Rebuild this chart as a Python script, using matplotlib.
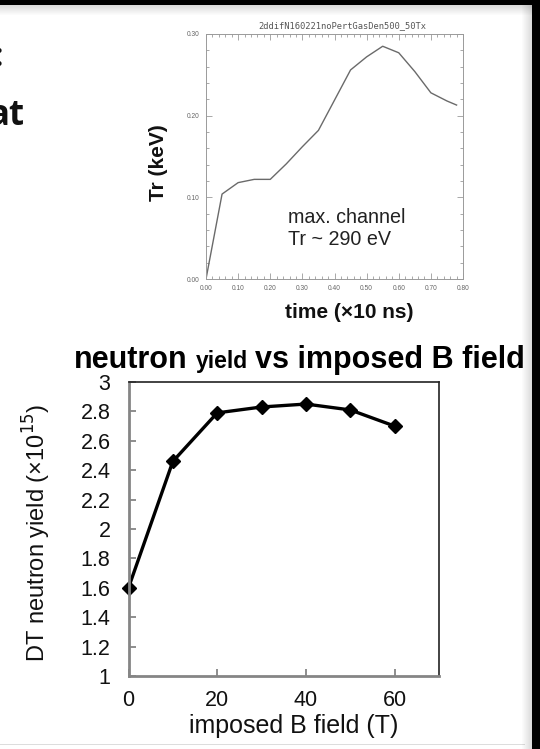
import matplotlib
matplotlib.use("Agg")
import matplotlib.pyplot as plt
from matplotlib.ticker import MultipleLocator, FixedLocator
from matplotlib.patches import Rectangle

# Radiation temperature history in the max. channel
time_10ns = [0.00, 0.05, 0.10, 0.15, 0.20, 0.25, 0.30, 0.35, 0.40, 0.45,
             0.50, 0.55, 0.60, 0.65, 0.70, 0.75, 0.78]
tr_kev = [0.000, 0.104, 0.118, 0.122, 0.122, 0.141, 0.162, 0.182, 0.219, 0.256,
          0.272, 0.285, 0.277, 0.254, 0.228, 0.218, 0.213]
run_name = "2ddifN160221noPertGasDen500_50Tx"
tr_ticks_x = [0.0, 0.1, 0.2, 0.3, 0.4, 0.5, 0.6, 0.7, 0.8]
tr_ticks_y = [0.0, 0.1, 0.2, 0.3]

# DT neutron yield vs imposed B field
b_field_T = [0, 10, 20, 30, 40, 50, 60]
yield_1e15 = [1.60, 2.46, 2.79, 2.83, 2.85, 2.81, 2.70]
b_ticks = [0, 20, 40, 60]
yield_ticks = [1.0, 1.2, 1.4, 1.6, 1.8, 2.0, 2.2, 2.4, 2.6, 2.8, 3.0]

W, H = 540, 749
fig = plt.figure(figsize=(W / 100, H / 100), dpi=100)
fig.patch.set_facecolor("white")
SANS = ["Liberation Sans", "DejaVu Sans"]


def fx(px):
    return px / W


def fy(py):
    return 1 - py / H


# ---------------- upper panel: Tr vs time ----------------
ax1 = fig.add_axes([fx(206), fy(279), fx(463) - fx(206), fy(34) - fy(279)])
ax1.plot(time_10ns, tr_kev, color="#6a6a6a", lw=1.0)
ax1.set_xlim(0, 0.8)
ax1.set_ylim(0, 0.3)
ax1.xaxis.set_major_locator(FixedLocator(tr_ticks_x))
ax1.yaxis.set_major_locator(FixedLocator(tr_ticks_y))
ax1.xaxis.set_minor_locator(MultipleLocator(0.02))
ax1.yaxis.set_minor_locator(MultipleLocator(0.02))
ax1.set_xticklabels([f"{v:.2f}" for v in tr_ticks_x])
ax1.set_yticklabels([f"{v:.2f}" for v in tr_ticks_y])
for sp in ax1.spines.values():
    sp.set_color("#9a9a9a")
    sp.set_linewidth(0.7)
ax1.tick_params(which="both", direction="in", top=True, right=True,
                color="#9a9a9a", width=0.6)
ax1.tick_params(which="major", length=4)
ax1.tick_params(which="minor", length=2)
ax1.tick_params(axis="x", labelsize=4.8, labelcolor="#666666", pad=4)
ax1.tick_params(axis="y", labelsize=4.8, labelcolor="#666666", pad=5)
for lab in ax1.get_xticklabels() + ax1.get_yticklabels():
    lab.set_family(SANS)

fig.text(fx(342), fy(26), run_name, family="DejaVu Sans Mono", fontsize=6.3,
         color="#555555", ha="center", va="center")
fig.text(fx(159), fy(163), "Tr (keV)", family=SANS, fontsize=15, fontweight="bold",
         rotation=90, ha="center", va="center", color="#111111")
fig.text(fx(349), fy(313), "time (×10 ns)", family=SANS, fontsize=15,
         fontweight="bold", ha="center", va="center", color="#111111")
ax1.text(0.255, 0.062, "max. channel\nTr ~ 290 eV", family=SANS, fontsize=14.2,
         color="#222222", ha="left", va="center", linespacing=1.2,
         transform=ax1.transData)

# ---------------- lower panel: neutron yield vs B ----------------
ax2 = fig.add_axes([fx(128.5), fy(676), fx(439) - fx(128.5), fy(382) - fy(676)])
ax2.plot(b_field_T, yield_1e15, color="black", lw=2.4, marker="D",
         markersize=6.8, markerfacecolor="black", markeredgecolor="black",
         clip_on=False)
ax2.set_xlim(0, 70)
ax2.set_ylim(1, 3)
ax2.xaxis.set_major_locator(FixedLocator(b_ticks))
ax2.yaxis.set_major_locator(FixedLocator(yield_ticks))
ax2.set_yticklabels([f"{v:g}" for v in yield_ticks])
ax2.set_xticklabels([str(v) for v in b_ticks])
ax2.spines["left"].set_color("#858585")
ax2.spines["bottom"].set_color("#858585")
ax2.spines["left"].set_linewidth(2.0)
ax2.spines["bottom"].set_linewidth(2.0)
ax2.spines["top"].set_color("#222222")
ax2.spines["right"].set_color("#222222")
ax2.spines["top"].set_linewidth(1.2)
ax2.spines["right"].set_linewidth(1.2)
ax2.tick_params(direction="in", length=5, width=1.3, color="#858585",
                labelsize=15.5, labelcolor="#111111")
ax2.tick_params(axis="y", pad=13)
ax2.tick_params(axis="x", pad=10)
for lab in ax2.get_xticklabels() + ax2.get_yticklabels():
    lab.set_family(SANS)

fig.text(fx(37), fy(533), "DT neutron yield (×10$^{15}$)", family=SANS,
         fontsize=17, rotation=90, ha="center", va="center", color="#111111")
fig.text(fx(294), fy(726), "imposed B field (T)", family=SANS, fontsize=18,
         ha="center", va="center", color="#111111")

# Title with a smaller "yield"
fig.canvas.draw()
rend = fig.canvas.get_renderer()
x_px = 74.0
y_base = fy(368)
pieces = [("neutron", 22, True), ("yield", 16.5, True), ("vs imposed B field", 22, False)]
for text, fs, gap_after in pieces:
    t = fig.text(fx(x_px), y_base, text, family=SANS, fontsize=fs, fontweight="bold",
                 ha="left", va="baseline", color="black")
    bb = t.get_window_extent(renderer=rend)
    x_px = bb.x1 + (0.278 * fs * 100 / 72 if gap_after else 0)

# ---------------- slide fragments and frame ----------------
fig.text(fx(3), fy(66), ":", family=["Open Sans", "DejaVu Sans"], fontsize=24,
         fontweight="bold", ha="right", va="baseline", color="#111111")
fig.text(fx(24), fy(125), "at", family=["Open Sans", "DejaVu Sans"], fontsize=25,
         fontweight="bold", ha="right", va="baseline", color="#111111")

# drop shadows under the black frame
for i in range(10):
    a = 0.28 * (1 - i / 10)
    fig.patches.append(Rectangle((0, 1 - (5 + i + 1) / H), 1, 1 / H,
                                 transform=fig.transFigure, color="black",
                                 alpha=a * 0.5, lw=0, zorder=5))
    fig.patches.append(Rectangle((fx(532 - i - 1), 0), 1 / W, 1,
                                 transform=fig.transFigure, color="black",
                                 alpha=a * 0.5, lw=0, zorder=5))
fig.patches.append(Rectangle((0, fy(5)), 1, 5 / H, transform=fig.transFigure,
                             color="black", lw=0, zorder=6))
fig.patches.append(Rectangle((fx(532), 0), 8 / W, 1, transform=fig.transFigure,
                             color="black", lw=0, zorder=6))
fig.patches.append(Rectangle((0, fy(745)), fx(525), 1.2 / H, transform=fig.transFigure,
                             color="#dddddd", lw=0, zorder=4))

fig.savefig("out.png", dpi=100, facecolor="white")
